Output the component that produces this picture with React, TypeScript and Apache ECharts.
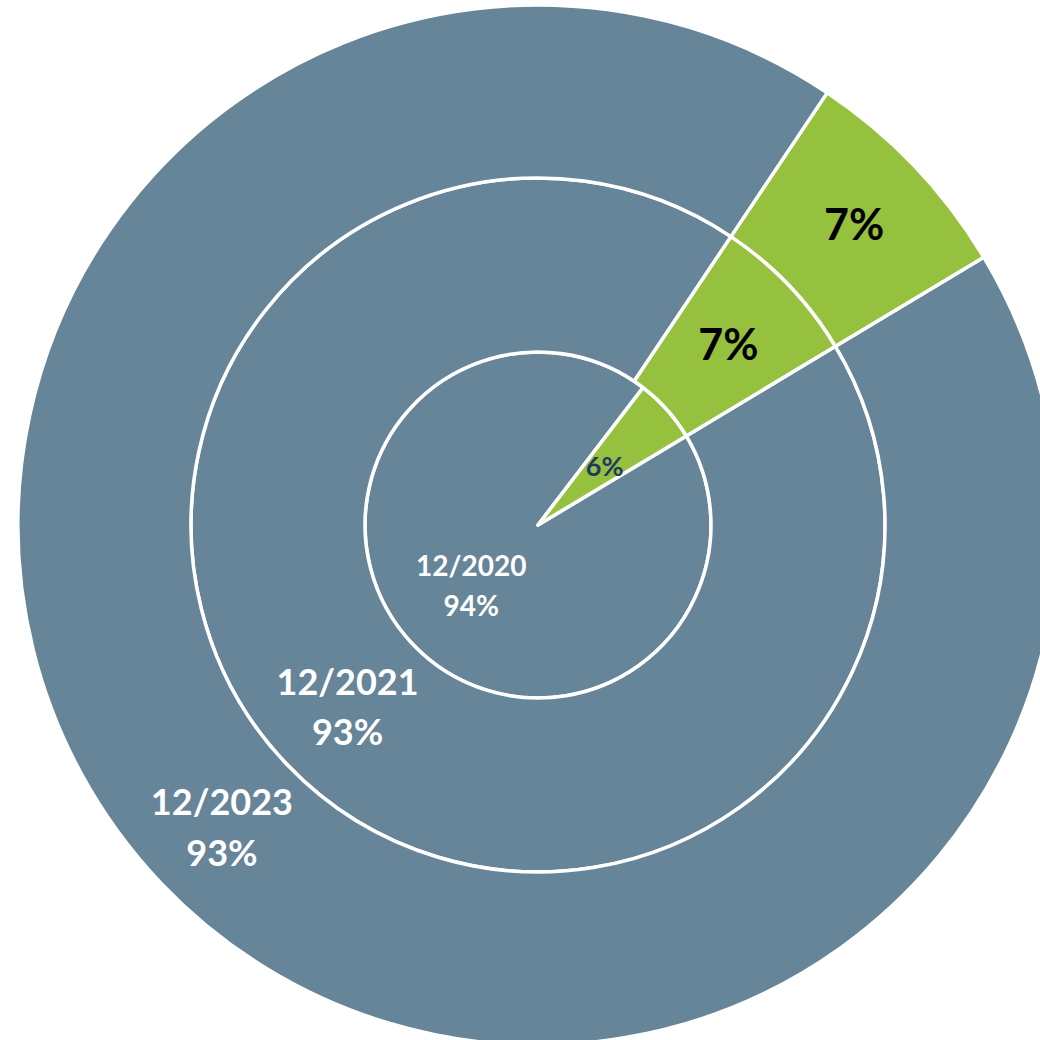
import React, { useEffect, useRef } from "react";
import * as echarts from "echarts";

const categories = ["Gray", "Green"];
const periods = ["12/2020", "12/2021", "12/2023"];
const grayValues = [94, 93, 93];
const greenValues = [6, 7, 7];

const GRAY = "#668599";
const GREEN = "#95c13e";

export default function App() {
  const ref = useRef<HTMLDivElement>(null);

  useEffect(() => {
    if (!ref.current) return;
    const chart = echarts.init(ref.current, undefined, { renderer: "svg" });
    const radii: [number, number][] = [
      [0, 173],
      [173, 347],
      [347, 520],
    ];
    const graySizes = [
      { fontSize: 28, lineHeight: 40 },
      { fontSize: 36, lineHeight: 50 },
      { fontSize: 36, lineHeight: 51 },
    ];
    const greenSizes = [
      { fontSize: 27, color: "#1f3864" },
      { fontSize: 43, color: "#000000" },
      { fontSize: 43, color: "#000000" },
    ];
    const series = periods.map((p, i) => ({
      type: "pie",
      name: p,
      radius: radii[i],
      center: [538, 525],
      startAngle: 31,
      clockwise: true,
      silent: true,
      emphasis: { disabled: true },
      itemStyle: { borderColor: "#ffffff", borderWidth: 3.5 },
      labelLine: { show: false },
      data: [
        {
          name: p,
          value: grayValues[i],
          itemStyle: { color: GRAY },
          label: {
            show: true,
            position: "inside",
            formatter: "{b}\n{c}%",
            color: "#ffffff",
            fontFamily: "Lato",
            fontWeight: "bold",
            fontSize: graySizes[i].fontSize,
            lineHeight: graySizes[i].lineHeight,
          },
        },
        {
          name: categories[1] + " " + p,
          value: greenValues[i],
          itemStyle: { color: GREEN },
          label: {
            show: true,
            position: "inside",
            formatter: "{c}%",
            color: greenSizes[i].color,
            fontFamily: "Lato",
            fontWeight: "bold",
            fontSize: greenSizes[i].fontSize,
          },
        },
      ],
    }));
    chart.setOption({
      animation: false,
      backgroundColor: "#ffffff",
      series: series as any,
    });
    return () => chart.dispose();
  }, []);

  return (
    <div
      ref={ref}
      style={{ position: "absolute", left: 0, top: 0, width: 1040, height: 1040 }}
    />
  );
}
